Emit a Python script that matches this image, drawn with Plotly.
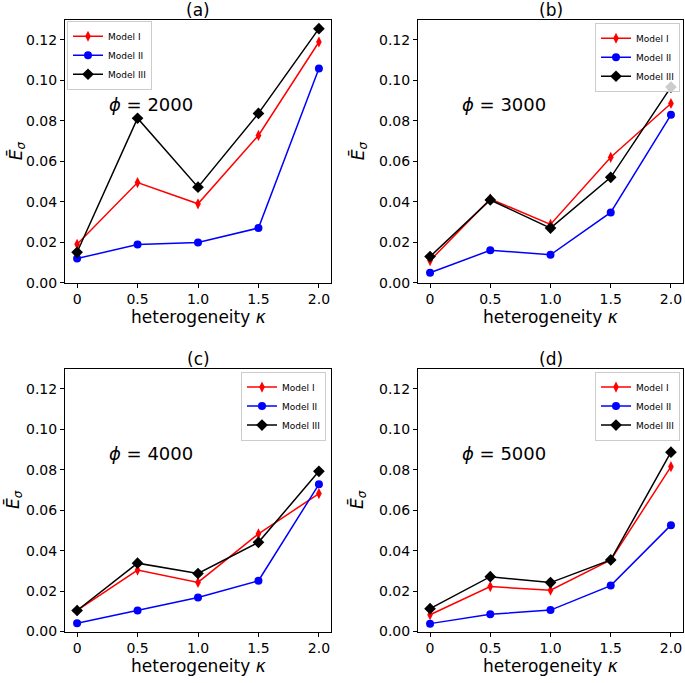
import plotly.graph_objects as go

kappa = [0, 0.5, 1.0, 1.5, 2.0]
kappa_labels = ["0", "0.5", "1.0", "1.5", "2.0"]
panels = ["(a)", "(b)", "(c)", "(d)"]
phis = ["2000", "3000", "4000", "5000"]

model1 = [
    [0.0190, 0.0495, 0.0390, 0.0728, 0.1190],
    [0.0109, 0.0414, 0.0288, 0.0620, 0.0886],
    [0.0104, 0.0304, 0.0243, 0.0483, 0.0682],
    [0.0083, 0.0222, 0.0204, 0.0354, 0.0815],
]
model1_err = [
    [0.0012, 0.0012, 0.0012, 0.0014, 0.0014],
    [0.0012, 0.0012, 0.0012, 0.0014, 0.0014],
    [0.0010, 0.0012, 0.0012, 0.0014, 0.0014],
    [0.0010, 0.0012, 0.0012, 0.0012, 0.0014],
]
model2 = [
    [0.0119, 0.0189, 0.0199, 0.0270, 0.1059],
    [0.0049, 0.0160, 0.0138, 0.0347, 0.0830],
    [0.0041, 0.0104, 0.0168, 0.0251, 0.0728],
    [0.0039, 0.0085, 0.0106, 0.0227, 0.0526],
]
model3 = [
    [0.0150, 0.0813, 0.0472, 0.0837, 0.1256],
    [0.0129, 0.0409, 0.0270, 0.0521, 0.0967],
    [0.0104, 0.0338, 0.0287, 0.0441, 0.0792],
    [0.0113, 0.0271, 0.0242, 0.0354, 0.0887],
]

W, H = 685, 683
FONT = "DejaVu Sans"

# axes boxes in pixels: left, right, top, bottom
boxes = [(65, 331, 20, 286), (418, 683, 20, 286),
         (65, 331, 373, 639), (418, 683, 373, 639)]
ylab_x = [17, 359, 14, 358]
legend_pos = [(67, 21, "left"), (680, 23, "right"), (326, 376, "right"), (680, 376, "right")]

fig = go.Figure()
annotations = []

for i in range(4):
    sfx = "" if i == 0 else str(i + 1)
    lg = "legend" if i == 0 else "legend" + str(i + 1)
    xa, ya = "x" + sfx, "y" + sfx
    fig.add_trace(go.Scatter(
        x=kappa, y=model1[i], name="Model I", xaxis=xa, yaxis=ya, legend=lg,
        mode="lines+markers", line=dict(color="red", width=1.5),
        marker=dict(symbol="diamond-tall", size=8, color="red"),
        error_y=dict(type="data", array=model1_err[i], color="red", thickness=1.5, width=0)))
    fig.add_trace(go.Scatter(
        x=kappa, y=model2[i], name="Model II", xaxis=xa, yaxis=ya, legend=lg,
        mode="lines+markers", line=dict(color="blue", width=1.5),
        marker=dict(symbol="circle", size=8, color="blue")))
    fig.add_trace(go.Scatter(
        x=kappa, y=model3[i], name="Model III", xaxis=xa, yaxis=ya, legend=lg,
        mode="lines+markers", line=dict(color="black", width=1.5),
        marker=dict(symbol="diamond", size=9, color="black")))

    l, r, t, b = boxes[i]
    axis_common = dict(showline=True, linecolor="black", linewidth=1, mirror=True,
                       ticks="outside", ticklen=4, tickcolor="black", showgrid=False,
                       zeroline=False, tickfont=dict(family=FONT, size=14, color="black"))
    fig.layout["xaxis" + sfx] = dict(
        domain=[l / W, r / W], anchor=ya, range=[-0.1, 2.1],
        tickvals=kappa, ticktext=kappa_labels, **axis_common)
    fig.layout["yaxis" + sfx] = dict(
        domain=[1 - b / H, 1 - t / H], anchor=xa, range=[0, 0.13],
        tickvals=[0, 0.02, 0.04, 0.06, 0.08, 0.10, 0.12], tickformat=".2f", **axis_common)

    lx, ly, anchor = legend_pos[i]
    fig.layout[lg] = dict(
        x=lx / W, y=1 - ly / H, xanchor=anchor, yanchor="top",
        bgcolor="rgba(255,255,255,0.8)", bordercolor="#cccccc", borderwidth=1,
        font=dict(family=FONT, size=9, color="black"),
        tracegroupgap=0, itemwidth=30)

    cx = (l + r) / 2
    annotations.append(dict(text=panels[i], x=cx / W, y=1 - (t - 10) / H,
                            xanchor="center", yanchor="middle",
                            xref="paper", yref="paper", showarrow=False,
                            font=dict(family=FONT, size=17, color="black")))
    annotations.append(dict(text="heterogeneity <i>κ</i>", x=cx / W, y=1 - (b + 35) / H,
                            xanchor="center", yanchor="middle",
                            xref="paper", yref="paper", showarrow=False,
                            font=dict(family=FONT, size=17, color="black")))
    annotations.append(dict(text="<i>Ē</i><sub><i>σ</i></sub>", x=ylab_x[i] / W,
                            y=1 - ((t + b) / 2) / H, textangle=-90,
                            xanchor="center", yanchor="middle",
                            xref="paper", yref="paper", showarrow=False,
                            font=dict(family=FONT, size=17, color="black")))
    annotations.append(dict(text="<i>ϕ</i> = " + phis[i], x=0.25, y=0.088,
                            xref=xa, yref=ya, xanchor="left", yanchor="middle",
                            showarrow=False,
                            font=dict(family=FONT, size=18, color="black")))

fig.update_layout(
    width=W, height=H, margin=dict(l=0, r=0, t=0, b=0),
    plot_bgcolor="white", paper_bgcolor="white",
    annotations=annotations, showlegend=True,
)

fig.write_html("out.html", config={"displayModeBar": False},
               post_script="document.body.style.margin='0px';")
